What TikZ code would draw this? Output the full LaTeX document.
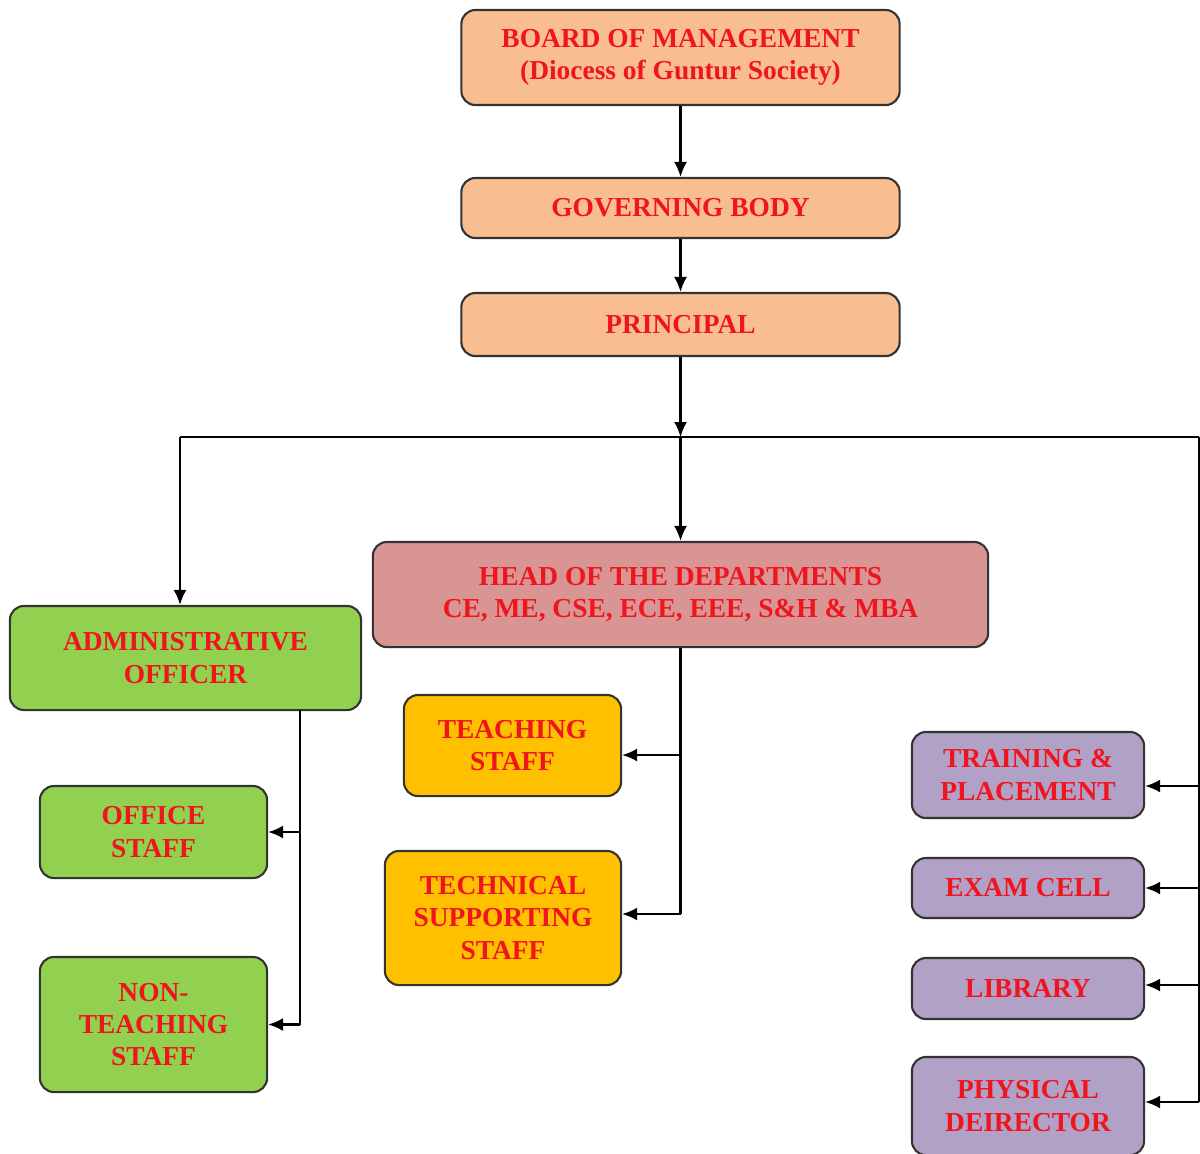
\documentclass[tikz,border=0pt]{standalone}
\usepackage{fontspec}
\setmainfont{Liberation Serif}
\usetikzlibrary{arrows.meta}
\definecolor{peach}{HTML}{F9BE8F}
\definecolor{hodpink}{HTML}{D99594}
\definecolor{leafgreen}{HTML}{92D050}
\definecolor{amber}{HTML}{FFC000}
\definecolor{lilac}{HTML}{B2A1C7}
\definecolor{txtred}{HTML}{F0141E}
\tikzset{
	unitbox/.style={draw=black!80, line width=0.6pt, rounded corners=0.14cm, align=center,
		text=txtred, font=\fontsize{7.8}{9.2}\selectfont\bfseries, inner sep=0pt},
	link/.style={line width=0.6pt, -{Latex[length=1.5mm,width=1.3mm]}},
	plain/.style={line width=0.6pt}
}
\begin{document}
\begin{tikzpicture}[x=0.01cm,y=-0.01cm]
	\useasboundingbox (0,0) rectangle (1200,1153);
	% top chain
	\node[unitbox, fill=peach, minimum width=4.38cm, minimum height=0.95cm] (board) at (680.5,57.5) {BOARD OF MANAGEMENT\\(Diocess of Guntur Society)};
	\node[unitbox, fill=peach, minimum width=4.38cm, minimum height=0.6cm] (gov) at (680.5,208) {GOVERNING BODY};
	\node[unitbox, fill=peach, minimum width=4.38cm, minimum height=0.63cm] (princ) at (680.5,324.5) {PRINCIPAL};
	% second level
	\node[unitbox, fill=hodpink, minimum width=6.15cm, minimum height=1.05cm] (hod) at (680.5,594.5) {HEAD OF THE DEPARTMENTS\\CE, ME, CSE, ECE, EEE, S\&H \& MBA};
	\node[unitbox, fill=leafgreen, minimum width=3.51cm, minimum height=1.04cm] (admin) at (185.5,658) {ADMINISTRATIVE\\OFFICER};
	% admin side
	\node[unitbox, fill=leafgreen, minimum width=2.27cm, minimum height=0.92cm] (office) at (153.5,832) {OFFICE\\STAFF};
	\node[unitbox, fill=leafgreen, minimum width=2.27cm, minimum height=1.35cm] (nonteach) at (153.5,1024.5) {NON-\\TEACHING\\STAFF};
	% departments side
	\node[unitbox, fill=amber, minimum width=2.17cm, minimum height=1.01cm] (teach) at (512.5,745.5) {TEACHING\\STAFF};
	\node[unitbox, fill=amber, minimum width=2.36cm, minimum height=1.34cm] (tech) at (503,918) {TECHNICAL\\SUPPORTING\\STAFF};
	% right column
	\node[unitbox, fill=lilac, minimum width=2.32cm, minimum height=0.86cm] (place) at (1028,775) {TRAINING \&\\PLACEMENT};
	\node[unitbox, fill=lilac, minimum width=2.32cm, minimum height=0.6cm] (exam) at (1028,888) {EXAM CELL};
	\node[unitbox, fill=lilac, minimum width=2.32cm, minimum height=0.61cm] (lib) at (1028,988.5) {LIBRARY};
	\node[unitbox, fill=lilac, minimum width=2.32cm, minimum height=0.98cm] (phys) at (1028,1106) {PHYSICAL\\DEIRECTOR};
	% bus points
	\coordinate (hub) at (680.5,437);
	\coordinate (busl) at (180,437);
	\coordinate (busr) at (1199,437);
	\coordinate (adminx) at (300,710);
	\draw[link] (board) -- (gov);
	\draw[link] (gov) -- (princ);
	\draw[link] (princ) -- (hub);
	\draw[plain] (busl) -- (busr);
	\draw[link] (hub) -- (hod);
	\draw[link] (busl) -- (admin.north -| busl);
	% admin branches
	\draw[plain] (adminx) -- (adminx |- nonteach);
	\draw[link] (adminx |- office) -- (office);
	\draw[link] (adminx |- nonteach) -- (nonteach);
	% hod branches
	\draw[plain] (hod.south) -- (hod.south |- 0,914);
	\draw[link] (hod.south |- 0,755) -- (teach.east |- 0,755);
	\draw[link] (hod.south |- 0,914) -- (tech.east |- 0,914);
	% right bus
	\draw[plain] (busr) -- (busr |- 0,1102);
	\draw[link] (busr |- 0,786) -- (place.east |- 0,786);
	\draw[link] (busr |- exam) -- (exam);
	\draw[link] (busr |- 0,985) -- (lib.east |- 0,985);
	\draw[link] (busr |- 0,1102) -- (phys.east |- 0,1102);
\end{tikzpicture}
\end{document}
